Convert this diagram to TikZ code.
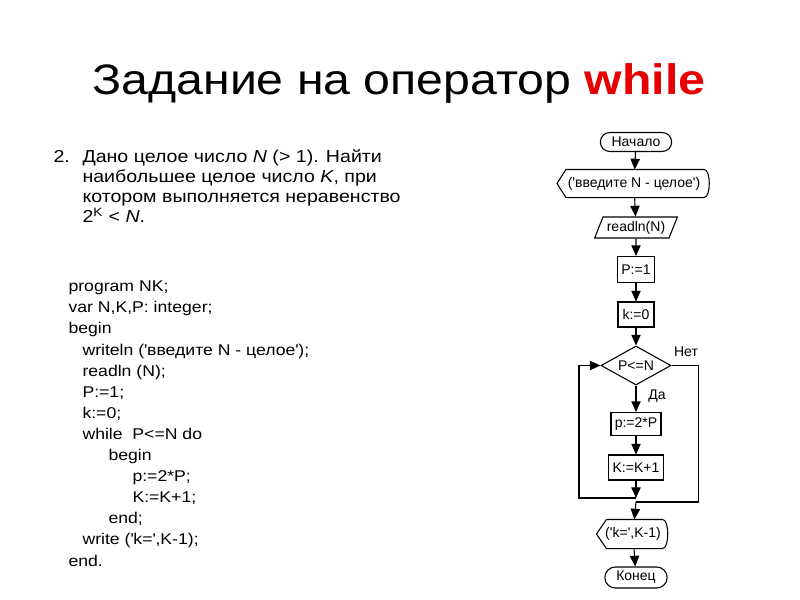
\documentclass[tikz,border=0pt]{standalone}
\usepackage{fontspec}
\setmainfont{Liberation Sans}
\newfontfamily\slidefont[FakeStretch=1.13]{Liberation Sans}
\usetikzlibrary{shapes.geometric,shapes.misc,arrows.meta,calc}
\definecolor{keyred}{RGB}{230,0,0}
\newcommand{\apos}{\textquotesingle}

\begin{document}
\begin{tikzpicture}[x=0.75pt,y=-0.75pt,line width=0.8pt,
    >={Triangle[length=8pt,width=7pt]}]
  \useasboundingbox (0,0) rectangle (800,600);

  % title
  \node[anchor=base,inner sep=0,font=\slidefont\fontsize{32}{38}\selectfont] (title) at (399,94)
    {Задание на оператор \textcolor{keyred}{\bfseries while}};

  % task
  \begin{scope}[every node/.style={anchor=base west,inner sep=0,font=\slidefont\fontsize{13}{15}\selectfont}]
    \node (num) at (53,162.7) {2.};
    \node (t1) at (82,162.7) {Дано целое число \textit{N} (> 1). Найти};
    \node (t2) at (82,182.7) {наибольшее целое число \textit{K}, при};
    \node (t3) at (82,202.7) {котором выполняется неравенство};
    \node (t4) at (82,222.7) {2\textsuperscript{K} < \textit{N}.};
  \end{scope}

  % program
  \begin{scope}[every node/.style={anchor=base west,inner sep=0,font=\slidefont\fontsize{11.7}{14}\selectfont}]
    \foreach \ind/\txt [count=\i from 0] in {68/{program NK;}, 68/{var N,K,P: integer;}, 68/{begin},
        82/{writeln (\apos введите N - целое\apos);}, 82/{readln (N);}, 82/{P:=1;}, 82/{k:=0;},
        82/{while \ P<=N do}, 108/{begin}, 132/{p:=2*P;}, 132/{K:=K+1;}, 108/{end;},
        82/{write (\apos k=\apos,K-1);}, 68/{end.}}
      \node (c\i) at (\ind,291.7+21.1*\i) {\txt};
  \end{scope}

  % flowchart
  \begin{scope}[every node/.style={draw,inner sep=1pt,font=\fontsize{10.5}{12}\selectfont}]
    \node[rounded rectangle,minimum width=55.5pt,minimum height=14.25pt] (start) at (636,142) {Начало};
    \node[draw=none,minimum width=114.75pt,minimum height=20.25pt] (out1) at (634,183.5) {(\apos введите N - целое\apos)};
    \node[trapezium,trapezium left angle=64,trapezium right angle=116,trapezium stretches=true,
          minimum width=62.25pt,minimum height=15.75pt] (read) at (636,227.5) {readln(N)};
    \node[minimum width=27.75pt,minimum height=19.5pt] (p1) at (636,269.5) {P:=1};
    \node[minimum width=27pt,minimum height=18.75pt] (k0) at (636,314.5) {k:=0};
    \node[diamond,aspect=1.8,inner sep=0,minimum width=52.5pt,minimum height=29.25pt] (cond) at (636,365.5) {P<=N};
    \node[minimum width=37.5pt,minimum height=17.25pt] (dbl) at (636,424) {p:=2*P};
    \node[minimum width=41.25pt,minimum height=18.75pt] (inc) at (636,467.5) {K:=K+1};
    \node[draw=none,minimum width=54pt,minimum height=21pt] (out2) at (633,534) {(\apos k=\apos,K-1)};
    \node[rounded rectangle,minimum width=48.75pt,minimum height=15.75pt] (stop) at (636,577.5) {Конец};
  \end{scope}

  % display outlines
  \draw (out1.west) -- ($(out1.north west)+(9,0)$) -- ($(out1.north east)+(-7,0)$)
    .. controls (out1.north east) and (out1.south east) .. ($(out1.south east)+(-7,0)$)
    -- ($(out1.south west)+(9,0)$) -- cycle;
  \draw (out2.west) -- ($(out2.north west)+(10,0)$) -- ($(out2.north east)+(-7,0)$)
    .. controls (out2.north east) and (out2.south east) .. ($(out2.south east)+(-7,0)$)
    -- ($(out2.south west)+(10,0)$) -- cycle;

  % labels
  \begin{scope}[every node/.style={inner sep=0,font=\fontsize{10.5}{12}\selectfont}]
    \node (no) at (686,352) {Нет};
    \node (yes) at (657,396) {Да};
  \end{scope}

  \coordinate (join) at (636,498);
  \coordinate (merge) at (636,502);

  \begin{scope}[every edge/.style={draw,->}]
    \path (start) edge (out1);
    \path (out1)  edge (read);
    \path (read)  edge (p1);
    \path (p1)    edge (k0);
    \path (k0)    edge (cond);
    \path (cond)  edge (dbl);
    \path (dbl)   edge (inc);
    \path (inc)   edge (join);
    \path (merge) edge (out2);
    \path (out2)  edge (stop);
  \end{scope}

  \draw[->] (join) -- ++(-57,0) |- (cond.west);
  \draw (cond.east) -- ++(27,0) |- (merge);

\end{tikzpicture}
\end{document}
